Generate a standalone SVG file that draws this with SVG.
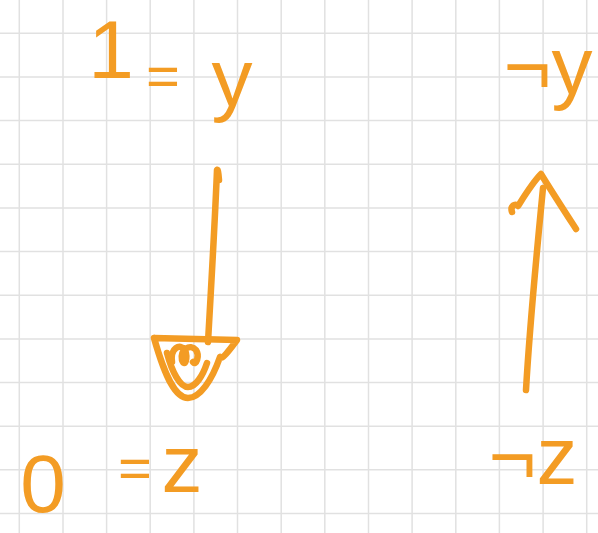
<svg xmlns="http://www.w3.org/2000/svg" width="598" height="533" viewBox="0 0 598 533">
  <style>
    .grid { stroke: #e1e1e1; stroke-width: 1.5; fill: none; }
    .ink { stroke: #f39c24; stroke-width: 6.5; fill: none; stroke-linecap: round; stroke-linejoin: round; }
    .lbl { fill: #f39c24; font-family: "Liberation Sans", Arial, sans-serif; font-size: 82px; text-anchor: middle; }
    .eq { font-size: 58px; }
  </style>
  <rect x="0" y="0" width="598" height="533" fill="#ffffff"/>
  <g id="grid">
    <path class="grid" d="M19.3,0V533 M63,0V533 M106.6,0V533 M150.2,0V533 M193.9,0V533 M237.5,0V533 M281.2,0V533 M324.8,0V533 M368.5,0V533 M412.1,0V533 M455.8,0V533 M499.4,0V533 M543.1,0V533 M586.7,0V533"/>
    <path class="grid" d="M0,33.3H598 M0,77H598 M0,120.6H598 M0,164.3H598 M0,207.9H598 M0,251.6H598 M0,295.2H598 M0,338.9H598 M0,382.5H598 M0,426.2H598 M0,469.8H598 M0,513.5H598"/>
  </g>
  <g id="node-1-y">
    <text class="lbl"><tspan x="111" y="78">1</tspan><tspan class="eq" x="163" y="96">=</tspan><tspan x="232" y="106">y</tspan></text>
  </g>
  <g id="node-not-y">
    <text class="lbl" x="548" y="94">¬y</text>
  </g>
  <g id="node-0-z">
    <text class="lbl"><tspan x="43" y="512">0</tspan><tspan class="eq" x="135" y="488">=</tspan><tspan x="182" y="492">z</tspan></text>
  </g>
  <g id="node-not-z">
    <text class="lbl" x="533" y="484">¬z</text>
  </g>
  <g id="connectors">
    <g id="arrow-y-to-z">
      <path class="ink" d="M219,180 Q218,168 217,170 C215,220 211,290 208,342"/>
      <path class="ink" d="M154,338 L237,340 C228,352 222,360 220,357 C212,380 200,398 188,398 C176,398 166,380 154,338"/>
      <path class="ink" d="M167,353 C172,372 180,387 188,387 C196,387 203,375 207,363"/>
      <path class="ink" d="M172,362 C170,348 180,343 185,350 C188,358 185,368 182,360 C180,350 190,343 196,350 C200,356 196,366 193,362"/>
    </g>
    <g id="arrow-notz-to-noty">
      <path class="ink" d="M526,390 C530,320 537,250 543,188"/>
      <path class="ink" d="M512,212 C510,206 515,203 518,206 C525,195 533,182 541,174 C552,192 565,212 576,229"/>
    </g>
  </g>
</svg>
